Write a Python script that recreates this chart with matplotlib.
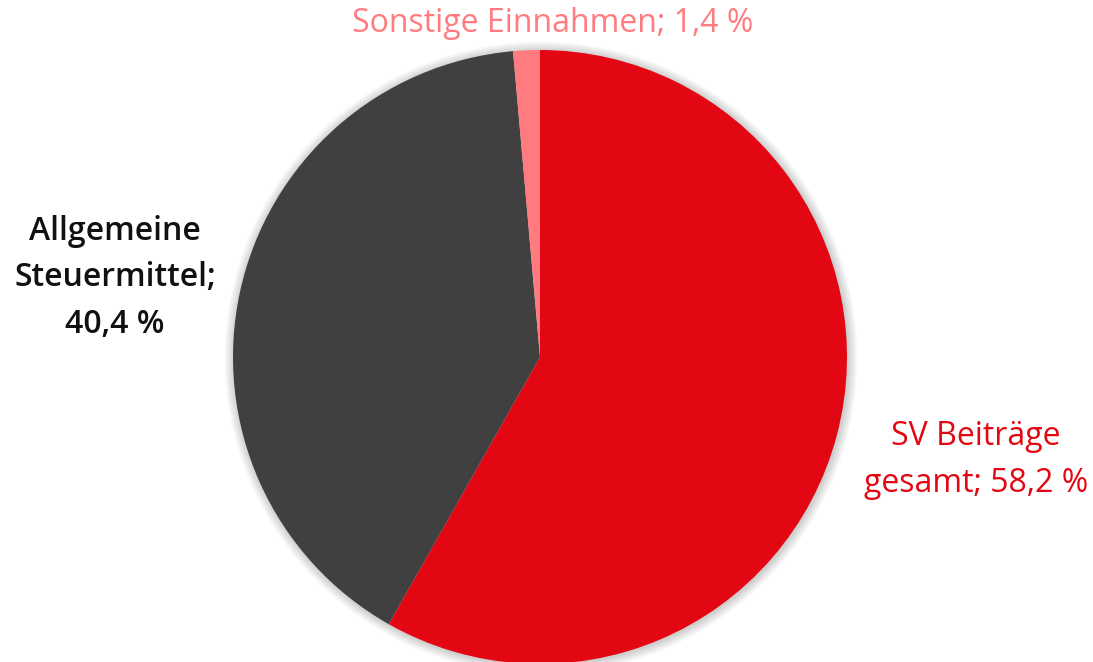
import matplotlib.pyplot as plt
from matplotlib.patches import Circle

labels = ['SV Beiträge\ngesamt; 58,2 %', 'Allgemeine\nSteuermittel;\n40,4 %', 'Sonstige Einnahmen; 1,4 %']
values = [58.2, 40.4, 1.4]
colors = ['#E30613', '#404040', '#FF7B80']

plt.rcParams['font.family'] = ['Open Sans', 'DejaVu Sans']

W, H = 1093, 662
fig = plt.figure(figsize=(W / 100, H / 100), dpi=100)
ax = fig.add_axes([0, 0, 1, 1])

cx, cy, r = 540, H - 357, 307

# soft shadow around the pie
for i in range(8):
    ax.add_patch(Circle((cx + 1, cy - 1), r + 1 + i * 1.2, color='black',
                        alpha=0.025, lw=0, zorder=0))

ax.pie(values, colors=colors, startangle=90, counterclock=False,
       center=(cx, cy), radius=r, frame=True,
       wedgeprops=dict(linewidth=0))
ax.set_xlim(0, W)
ax.set_ylim(0, H)
ax.set_aspect('equal')
ax.axis('off')

ax.text(553, H - 24, labels[2], color=colors[2], fontsize=23,
        ha='center', va='center', fontweight='medium')
ax.text(115, H - 278, labels[1], color='#111111', fontsize=23,
        ha='center', va='center', fontweight='semibold', linespacing=1.55)
ax.text(976, H - 460, labels[0], color=colors[0], fontsize=23,
        ha='center', va='center', fontweight='medium', linespacing=1.55)

fig.savefig('out.png', dpi=100)
